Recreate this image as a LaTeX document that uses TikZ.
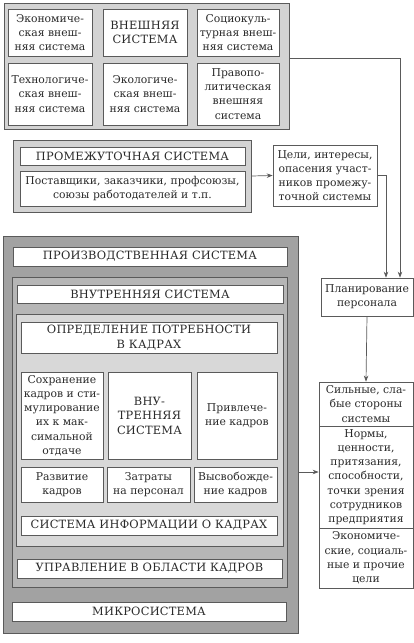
\documentclass[tikz,border=0pt]{standalone}
\usepackage{fontspec}
\setmainfont{DejaVu Serif}
\newfontfamily\capsfam[LetterSpace=2]{DejaVu Serif}
\usetikzlibrary{arrows.meta}
\definecolor{bord}{HTML}{5A5A5A}
\definecolor{lgray}{HTML}{D3D3D3}
\definecolor{mgray}{HTML}{B6B6B6}
\definecolor{dgray}{HTML}{A2A2A2}
\definecolor{cgray}{HTML}{D8D8D8}
\definecolor{txt}{HTML}{2A2A2A}
\tikzset{
  box/.style={draw=bord, fill=white, line width=0.7pt, align=center, inner sep=0pt,
    text=txt, font=\fontsize{10.8}{14.2}\selectfont},
  capsbox/.style={box, font=\capsfam\fontsize{11.4}{14.5}\selectfont},
  panel/.style={draw=bord, line width=0.7pt, inner sep=0pt},
  conn/.style={draw=bord, line width=0.7pt},
  arr/.style={conn, -{Stealth[length=6pt,width=4.5pt]}}
}
\newcommand\bx[7][]{\node[box,#1,minimum width={(#5-#3)*1pt},minimum height={(#6-#4)*1pt}] (#2) at ({(#3+#5)/2},{(#4+#6)/2}) {#7};}
\begin{document}
\begin{tikzpicture}[x=1pt,y=-1pt]
\useasboundingbox (0,0) rectangle (414,643);
% external system
\bx[panel,fill=lgray]{extouter}{4}{3}{289}{129}{}
\bx{e1}{8}{9}{92}{56}{Экономиче-\\ская внеш-\\няя система}
\bx[capsbox]{e2}{103}{9}{187}{56}{ВНЕШНЯЯ\\СИСТЕМА}
\bx{e3}{197}{9}{279}{56}{Социокуль-\\турная внеш-\\няя система}
\bx{e4}{8}{63}{92}{125}{Технологиче-\\ская внеш-\\няя система}
\bx{e5}{103}{63}{187}{125}{Экологиче-\\ская внеш-\\няя система}
\bx{e6}{197}{63}{279}{125}{Правопо-\\литическая\\внешняя\\система}
% intermediate system
\bx[panel,fill=lgray]{midouter}{13}{140}{251}{212}{}
\bx[capsbox]{m1}{20}{147}{245}{165}{ПРОМЕЖУТОЧНАЯ СИСТЕМА}
\bx{m2}{20}{171}{245}{206}{Поставщики, заказчики, профсоюзы,\\союзы работодателей и т.п.}
\bx{goals}{273}{145}{377}{206}{Цели, интересы,\\опасения участ-\\ников промежу-\\точной системы}
% production system
\bx[panel,fill=dgray]{prodouter}{3}{236}{298}{633}{}
\bx[capsbox]{p1}{13}{247}{287}{266}{ПРОИЗВОДСТВЕННАЯ СИСТЕМА}
\bx[panel,fill=mgray]{intouter}{12}{277}{287}{587}{}
\bx[capsbox]{i1}{17}{285}{283}{303}{ВНУТРЕННЯЯ СИСТЕМА}
\bx[panel,fill=cgray]{core}{16}{314}{283}{546}{}
\bx[capsbox]{c1}{21}{322}{277}{353}{ОПРЕДЕЛЕНИЕ ПОТРЕБНОСТИ\\В КАДРАХ}
\bx{c2}{21}{372}{103}{459}{Сохранение\\кадров и сти-\\мулирование\\их к мак-\\симальной\\отдаче}
\bx[capsbox]{c3}{108}{372}{191}{459}{ВНУ-\\ТРЕННЯЯ\\СИСТЕМА}
\bx{c4}{197}{372}{277}{459}{Привлече-\\ние кадров}
\bx{c5}{21}{467}{103}{502}{Развитие\\кадров}
\bx{c6}{107}{467}{190}{502}{Затраты\\на персонал}
\bx{c7}{194}{467}{277}{502}{Высвобожде-\\ние кадров}
\bx[capsbox]{c8}{21}{516}{277}{535}{СИСТЕМА ИНФОРМАЦИИ О КАДРАХ}
\bx[capsbox]{i2}{17}{559}{282}{578}{УПРАВЛЕНИЕ В ОБЛАСТИ КАДРОВ}
\bx[capsbox]{p2}{12}{602}{286}{621}{МИКРОСИСТЕМА}
% right column
\bx{plan}{321}{278}{413}{316}{Планирование\\персонала}
\bx{r1}{319}{382}{413}{426}{Сильные, сла-\\бые стороны\\системы}
\bx{r2}{319}{426}{413}{528}{Нормы,\\ценности,\\притязания,\\способности,\\точки зрения\\сотрудников\\предприятия}
\bx{r3}{319}{528}{413}{588}{Экономиче-\\ские, социаль-\\ные и прочие\\цели}
% connectors
\coordinate (r2in) at ([yshift=5pt]r2.west);
\draw[arr] ([yshift=8pt]extouter.east) -| ([xshift=33pt]plan.north);
\draw[arr] (goals.east) -| ([xshift=19pt]plan.north);
\draw[arr] (midouter.east) -- (goals.west);
\draw[arr] (plan.south) -- (r1.north);
\draw[arr] (prodouter.east |- r2in) -- (r2in);
\end{tikzpicture}
\end{document}
